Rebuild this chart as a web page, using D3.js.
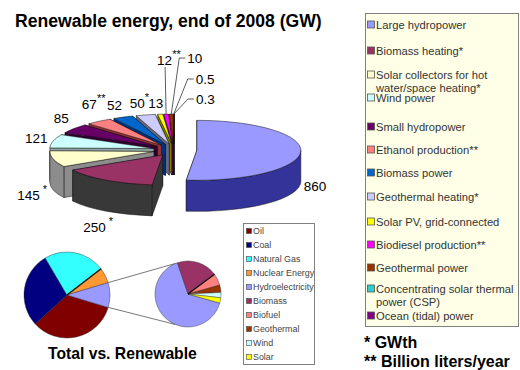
<!DOCTYPE html>
<html><head><meta charset="utf-8">
<script src="https://cdn.jsdelivr.net/npm/d3@7"></script>
<style>
body{margin:0;background:#fff;}
svg{display:block;font-family:"Liberation Sans",Arial,sans-serif;}
</style>
</head><body>
<svg id="chart" width="520" height="370"></svg>
<script>
// ---------------- DATA ----------------
const renewCategories = ["Large hydropower","Biomass heating*","Solar collectors for hot water/space heating*","Wind power","Small hydropower","Ethanol production**","Biomass power","Geothermal heating*","Solar PV, grid-connected","Biodiesel production**","Geothermal power","Concentrating solar thermal power (CSP)","Ocean (tidal) power"];
const renewValues = [860,250,145,121,85,67,52,50,13,12,10,0.5,0.3];
const renewValueText = ["860","250","145","121","85","67","52","50","13","12","10","0.5","0.3"];
const renewUnitMarks = ["","*","*","","","**","","*","","**","","",""];
const renewLegendLines = [["Large hydropower"],["Biomass heating*"],["Solar collectors for hot","water/space heating*"],["Wind power"],["Small hydropower"],["Ethanol production**"],["Biomass power"],["Geothermal heating*"],["Solar PV, grid-connected"],["Biodiesel production**"],["Geothermal power"],["Concentrating solar thermal","power (CSP)"],["Ocean (tidal) power"]];

const totalCategories = ["Oil","Coal","Natural Gas","Nuclear Energy","Renewables"];
const totalShares = [33.6,28.3,23.0,5.8,9.3];
const renewableCategories = ["Hydroelectricity","Biomass","Biofuel","Geothermal","Wind","Solar"];
const renewableShares = [65.3,20.0,5.8,3.6,2.6,2.6];
const smallLegendItems = ["Oil","Coal","Natural Gas","Nuclear Energy","Hydroelectricity","Biomass","Biofuel","Geothermal","Wind","Solar"];

const titleText = "Renewable energy, end of 2008 (GW)";
const subTitleText = "Total vs. Renewable";
const footnotes = ["* GWth","** Billion liters/year"];

// ---------------- STYLE ----------------
const renewColors = ["#9999FF","#993366","#FFFFCC","#CCFFFF","#660066","#FF8080","#0066CC","#CCCCFF","#FFFF00","#FF00FF","#993300","#33CCCC","#800080"];
const renewSide = ["#333399","#383838","#8C8C8C","#8FA3A3","#330033","#993333","#003380","#66667F","#808000","#800080","#4D1A00","#1A6666","#400040"];
const explodeBy = [0.22,0.2,0.2,0.2,0.2,0.2,0.2,0.2,0.2,0.2,0.2,0.2,0.2];
const smallColors = {"Oil":"#800000","Coal":"#000080","Natural Gas":"#33FFFF","Nuclear Energy":"#FF9933","Hydroelectricity":"#9999FF","Renewables":"#9999FF","Biomass":"#993366","Biofuel":"#FF8080","Geothermal":"#993300","Wind":"#CCFFFF","Solar":"#FFFF00"};
const legendRowY = [25,51,81,98,127,150,173,197,222,245,268,295,316];
// label nudges relative to each slice's outer rim point [dx, dy] (style only)
const labelNudge = [[3,39],[-23,52],[-36,41],[-28,2],[-20,-6],[-17,-12],[-16,-7.5],[-16,-7.3],[-12,-6],[-9,-49],[16,-51],[22,-30],[22,-10]];

const svg = d3.select("#chart");
svg.append("rect").attr("width",520).attr("height",370).attr("fill","#fff");

svg.append("text").attr("x",15).attr("y",27).attr("font-size",17.6).attr("font-weight","bold").attr("fill","#000").text(titleText);

// ---------------- 3D PIE ----------------
const P = {cx:174, cy:150, rx:104, ry:30, h:31, start:0};
const toRad = d => d*Math.PI/180;
const pie3 = d3.pie().sort(null).value(d=>d)
  .startAngle(toRad(P.start)).endAngle(toRad(P.start)+2*Math.PI)(renewValues);

function rim(c,a,z){ return [c[0]+P.rx*Math.sin(a), c[1]-P.ry*Math.cos(a)+z]; }
const slices = pie3.map((d,i)=>{
  const mid=(d.startAngle+d.endAngle)/2, e=explodeBy[i];
  const c=[P.cx+e*P.rx*Math.sin(mid), P.cy-e*P.ry*Math.cos(mid)];
  return {i,a0:d.startAngle,a1:d.endAngle,mid,c};
});
const g3 = svg.append("g");
const stroke = "#111", sw = 0.5;
function wallPath(s,a){
  const p0=rim(s.c,a,0), p1=rim(s.c,a,P.h);
  return `M${s.c[0]},${s.c[1]}L${p0[0]},${p0[1]}L${p1[0]},${p1[1]}L${s.c[0]},${s.c[1]+P.h}Z`;
}
function sidePath(s,t0,t1){
  const p0=rim(s.c,t0,0), p1=rim(s.c,t1,0), q1=rim(s.c,t1,P.h), q0=rim(s.c,t0,P.h);
  const la = (t1-t0)>Math.PI?1:0;
  return `M${p0[0]},${p0[1]}A${P.rx},${P.ry} 0 ${la} 1 ${p1[0]},${p1[1]}L${q1[0]},${q1[1]}A${P.rx},${P.ry} 0 ${la} 0 ${q0[0]},${q0[1]}Z`;
}
function topPath(s){
  const p0=rim(s.c,s.a0,0), p1=rim(s.c,s.a1,0);
  const la=(s.a1-s.a0)>Math.PI?1:0;
  return `M${s.c[0]},${s.c[1]}L${p0[0]},${p0[1]}A${P.rx},${P.ry} 0 ${la} 1 ${p1[0]},${p1[1]}Z`;
}
const order = slices.slice().sort((a,b)=>(-Math.cos(a.mid))-(-Math.cos(b.mid)));
order.forEach(s=>{
  const walls=[{a:s.a0,front:Math.sin(s.a0)<0},{a:s.a1,front:Math.sin(s.a1)>0}];
  walls.sort((x,y)=>(x.front?1:0)-(y.front?1:0));
  walls.forEach(w=>{
    g3.append("path").attr("d",wallPath(s,w.a)).attr("fill",renewSide[s.i]).attr("stroke",stroke).attr("stroke-width",sw).attr("stroke-linejoin","round");
  });
  const t0=Math.max(s.a0,Math.PI/2), t1=Math.min(s.a1,3*Math.PI/2);
  if(t1>t0){
    g3.append("path").attr("d",sidePath(s,t0,t1)).attr("fill",renewSide[s.i]).attr("stroke",stroke).attr("stroke-width",sw);
  }
});
slices.forEach(s=>{
  g3.append("path").attr("d",topPath(s)).attr("fill",renewColors[s.i]).attr("stroke",stroke).attr("stroke-width",sw).attr("stroke-linejoin","round");
});

// labels
const lg = svg.append("g").attr("font-size",13.5).attr("fill","#000");
slices.forEach(s=>{
  const r=rim(s.c,s.mid,0);
  const x=r[0]+labelNudge[s.i][0], y=r[1]+labelNudge[s.i][1];
  const t=lg.append("text").attr("x",x).attr("y",y);
  t.append("tspan").text(renewValueText[s.i]);
  if(renewUnitMarks[s.i]) t.append("tspan").attr("dy",-7).attr("font-size",11).attr("dx",s.i===1||s.i===2?3:0).text(renewUnitMarks[s.i]);
  if(s.i>=9){
    const tx = s.i===9 ? x+8 : x-2;
    const ty = s.i===9 ? y+2 : y-5;
    const pts = s.i===9 ? [[r[0],r[1]],[tx,ty]] : [[r[0],r[1]],[tx-6,ty],[tx,ty]];
    lg.append("path").attr("d",d3.line()(pts)).attr("fill","none").attr("stroke","#333").attr("stroke-width",0.8);
  }
});

// ---------------- BIG LEGEND ----------------
const L = svg.append("g");
L.append("rect").attr("x",365.5).attr("y",13.5).attr("width",153).attr("height",313).attr("fill","#FFFFE8").attr("stroke","#808080");
renewLegendLines.forEach((lines,i)=>{
  const yc=legendRowY[i] - (lines.length-1)*6;
  L.append("rect").attr("x",367.5).attr("y",yc-4).attr("width",7).attr("height",7).attr("fill",renewColors[i]).attr("stroke","#555").attr("stroke-width",0.8);
  lines.forEach((ln,k)=>{
    L.append("text").attr("x",376).attr("y",yc+4+k*12.5).attr("font-size",11.2).attr("fill","#333").text(ln);
  });
});
footnotes.forEach((f,i)=>{
  svg.append("text").attr("x",364).attr("y",348+i*18.5).attr("font-size",16).attr("font-weight","bold").attr("fill","#000").text(f);
});

// ---------------- PIE OF PIE ----------------
const A = {cx:67, cy:295, r:43}, B={cx:188, cy:294, r:33};
const otherSpan = totalShares[4]/d3.sum(totalShares)*2*Math.PI;
const mainStart = Math.PI/2 + otherSpan/2;
const pieMain = d3.pie().sort(null).value(d=>d).startAngle(mainStart).endAngle(mainStart+2*Math.PI)(totalShares);
const arcA = d3.arc().innerRadius(0).outerRadius(A.r);
const gA = svg.append("g").attr("transform",`translate(${A.cx},${A.cy})`);
gA.selectAll("path").data(pieMain).join("path").attr("d",arcA)
  .attr("fill",(d,i)=>smallColors[totalCategories[i]]).attr("stroke","#222").attr("stroke-width",0.4);
const bA = pieMain[2].endAngle;
gA.append("line").attr("x1",0).attr("y1",0).attr("x2",A.r*Math.sin(bA)).attr("y2",-A.r*Math.cos(bA)).attr("stroke","#111").attr("stroke-width",1.4);

const secStart = toRad(106);
const pieSec = d3.pie().sort(null).value(d=>d).startAngle(secStart).endAngle(secStart+2*Math.PI)(renewableShares);
const arcB = d3.arc().innerRadius(0).outerRadius(B.r);
const gB = svg.append("g").attr("transform",`translate(${B.cx},${B.cy})`);
gB.selectAll("path").data(pieSec).join("path").attr("d",arcB)
  .attr("fill",(d,i)=>smallColors[renewableCategories[i]]).attr("stroke","#222").attr("stroke-width",0.4);
const bB = pieSec[1].endAngle;
gB.append("line").attr("x1",0).attr("y1",0).attr("x2",B.r*Math.sin(bB)).attr("y2",-B.r*Math.cos(bB)).attr("stroke","#111").attr("stroke-width",1.3);

const oth = pieMain[4];
const pA = a=>[A.cx+A.r*Math.sin(a), A.cy-A.r*Math.cos(a)];
const pB = a=>[B.cx+B.r*Math.sin(a), B.cy-B.r*Math.cos(a)];
svg.append("path").attr("d",d3.line()([pA(oth.startAngle),pB(toRad(338))])).attr("stroke","#555").attr("stroke-width",0.8);
svg.append("path").attr("d",d3.line()([pA(oth.endAngle),pB(toRad(203))])).attr("stroke","#555").attr("stroke-width",0.8);

svg.append("text").attr("x",48).attr("y",358.5).attr("font-size",15.7).attr("font-weight","bold").attr("fill","#000").text(subTitleText);

const SL = svg.append("g");
SL.append("rect").attr("x",243.5).attr("y",223.5).attr("width",71).attr("height",141).attr("fill","#fff").attr("stroke","#808080");
smallLegendItems.forEach((n,i)=>{
  const y=231+i*14;
  SL.append("rect").attr("x",246.5).attr("y",y-2.5).attr("width",5).attr("height",5).attr("fill",smallColors[n]).attr("stroke","#444").attr("stroke-width",0.6);
  SL.append("text").attr("x",253).attr("y",y+3.3).attr("font-size",8.9).attr("fill","#444").text(n);
});
</script>
</body></html>
